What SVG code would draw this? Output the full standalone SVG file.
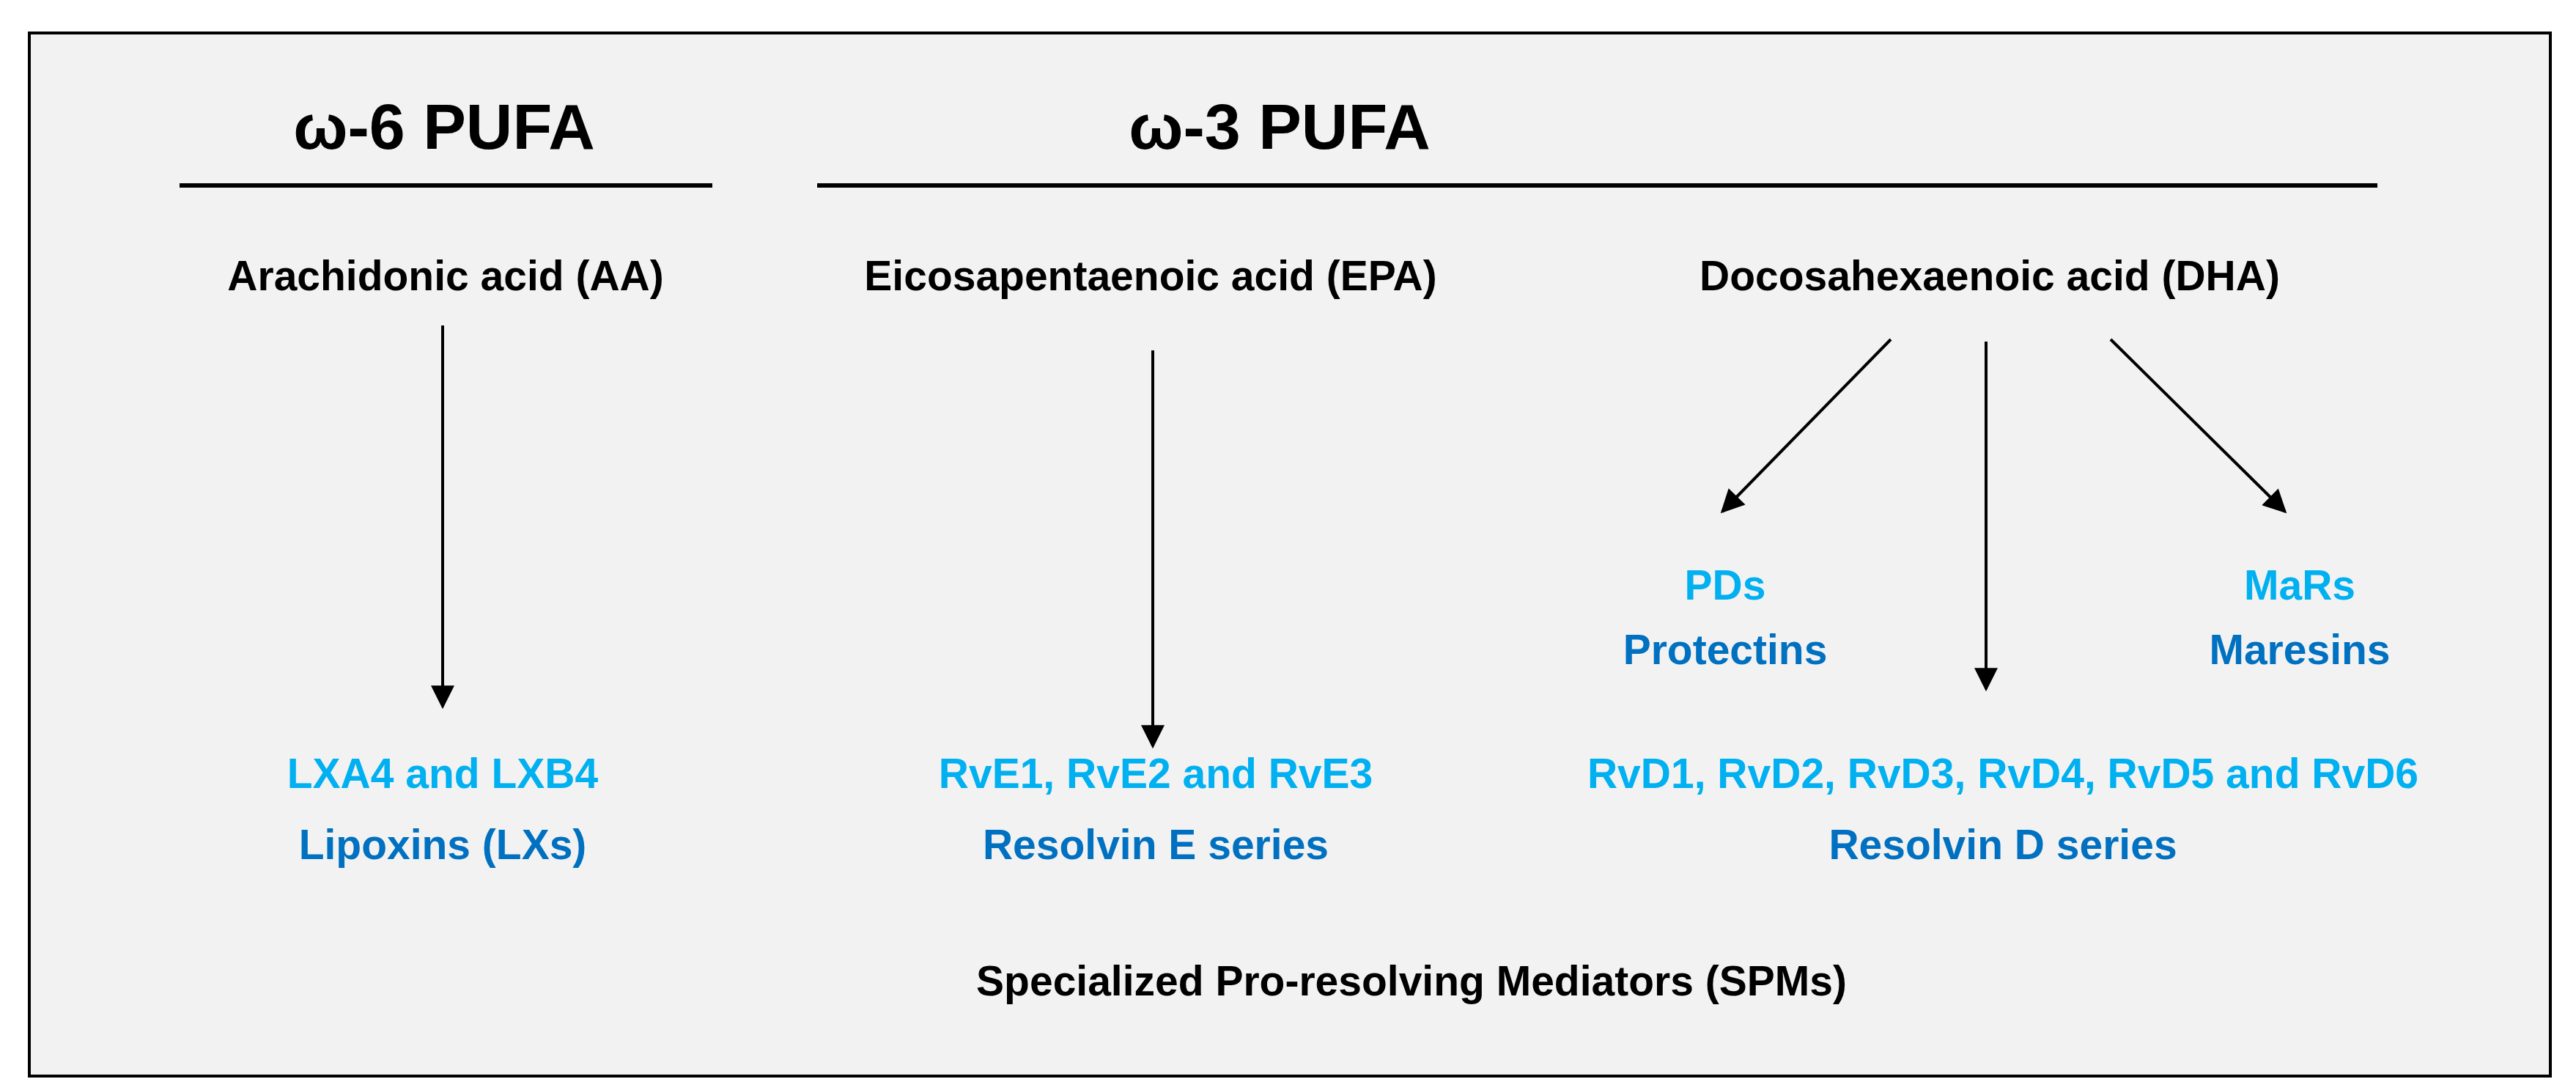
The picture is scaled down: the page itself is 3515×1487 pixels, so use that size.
<svg xmlns="http://www.w3.org/2000/svg" width="3515" height="1487" viewBox="0 0 3515 1487">
<defs>
<style>
text{font-family:"Liberation Sans",Arial,sans-serif;font-weight:bold;text-anchor:middle}
.t{font-size:88px;fill:#000}
.s{font-size:57px;fill:#000}
.l{font-size:57px;fill:#00b0f0}
.d{font-size:57px;fill:#0070c0}
.c{stroke:#000;stroke-width:4;fill:none;marker-end:url(#ah)}
</style>
<marker id="ah" viewBox="0 0 10 10" refX="9" refY="5" markerWidth="10" markerHeight="8" markerUnits="strokeWidth" orient="auto"><path d="M0,0 L10,5 L0,10 z" fill="#000"/></marker>
</defs>
<rect x="0" y="0" width="3515" height="1487" fill="#fff"/>
<rect x="40" y="45" width="3440" height="1423" fill="#f2f2f2" stroke="#000" stroke-width="4"/>
<g id="omega6"><text class="t" x="606" y="203">ω-6 PUFA</text><line x1="245" y1="253" x2="972" y2="253" stroke="#000" stroke-width="6"/></g>
<g id="omega3"><text class="t" x="1746" y="203">ω-3 PUFA</text><line x1="1115" y1="253" x2="3244" y2="253" stroke="#000" stroke-width="6"/></g>
<g id="aa"><text class="s" x="608" y="396">Arachidonic acid (AA)</text></g>
<g id="epa"><text class="s" x="1570" y="396">Eicosapentaenoic acid (EPA)</text></g>
<g id="dha"><text class="s" x="2715" y="396">Docosahexaenoic acid (DHA)</text></g>
<g id="pds"><text class="l" x="2354" y="818">PDs</text><text class="d" x="2354" y="906">Protectins</text></g>
<g id="mars"><text class="l" x="3138" y="818">MaRs</text><text class="d" x="3138" y="906">Maresins</text></g>
<g id="lx"><text class="l" x="604" y="1075">LXA4 and LXB4</text><text class="d" x="604" y="1172">Lipoxins (LXs)</text></g>
<g id="rve"><text class="l" x="1577" y="1075">RvE1, RvE2 and RvE3</text><text class="d" x="1577" y="1172">Resolvin E series</text></g>
<g id="rvd"><text class="l" x="2733" y="1075">RvD1, RvD2, RvD3, RvD4, RvD5 and RvD6</text><text class="d" x="2733" y="1172">Resolvin D series</text></g>
<g id="spm"><text class="s" x="1926" y="1358">Specialized Pro-resolving Mediators (SPMs)</text></g>
<g id="connectors">
<line class="c" x1="604" y1="444" x2="604" y2="964"/>
<line class="c" x1="1573" y1="478" x2="1573" y2="1018"/>
<line class="c" x1="2710" y1="466" x2="2710" y2="940"/>
<line class="c" x1="2580" y1="463" x2="2350" y2="698"/>
<line class="c" x1="2880" y1="463" x2="3118" y2="698"/>
</g>
</svg>
